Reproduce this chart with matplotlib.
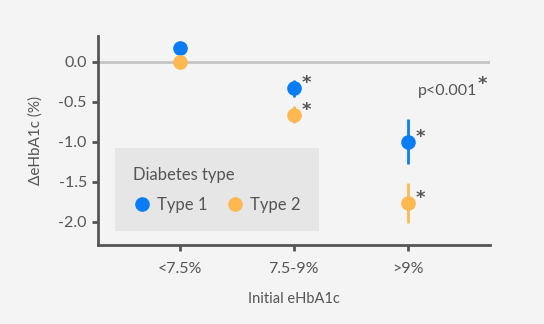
import numpy as np
import matplotlib.pyplot as plt

plt.rcParams['font.family'] = ['Lato', 'DejaVu Sans']

groups = ['<7.5%', '7.5-9%', '>9%']
type1_mean = [0.18, -0.33, -1.00]
type1_err = [0.0, 0.11, 0.28]
type2_mean = [0.0, -0.66, -1.76]
type2_err = [0.0, 0.11, 0.25]
# significance flag per group
type1_sig = [False, True, True]
type2_sig = [False, True, True]

blue = '#0a7cf5'
orange = '#fdb84f'
dark = '#555555'
bg = '#f4f4f4'
star = dict(fontsize=13, fontweight='bold', color=dark, family='DejaVu Sans')

fig = plt.figure(figsize=(5.44, 3.24), dpi=100, facecolor=bg)
ax = fig.add_axes([0.18, 0.244, 0.72, 0.645], facecolor=bg)

x = np.arange(1, len(groups) + 1)
ax.axhline(0, color='#c4c4c4', lw=2, zorder=0)

handles = []
for means, errs, sig, col, lab in [(type1_mean, type1_err, type1_sig, blue, 'Type 1'),
                                   (type2_mean, type2_err, type2_sig, orange, 'Type 2')]:
    eb = ax.errorbar(x, means, yerr=errs, fmt='o', color=col, ms=9.5, elinewidth=2,
                     capsize=0, label=lab, zorder=3)
    handles.append(eb[0])
    for xi, yi, s in zip(x, means, sig):
        if s:
            ax.annotate('*', (xi, yi), xytext=(6, -3), textcoords='offset points',
                        ha='left', va='bottom', **star)

ax.text(3.09, -0.36, 'p<0.001', fontsize=11.5, color=dark, ha='left', va='center')
ax.text(3.615, -0.39, '*', ha='left', va='bottom', **star)

ax.set_xlim(0.28, 3.72)
ax.set_ylim(-2.29, 0.325)
ax.set_xticks(x)
ax.set_xticklabels(groups)
ax.set_yticks([0, -0.5, -1.0, -1.5, -2.0])
ax.set_yticklabels(['0.0', '-0.5', '-1.0', '-1.5', '-2.0'])
ax.set_xlabel('Initial eHbA1c', fontsize=10.5, color=dark, labelpad=12)
ax.set_ylabel('ΔeHbA1c (%)', fontsize=11, color=dark, labelpad=11)

for side in ['top', 'right']:
    ax.spines[side].set_visible(False)
for side in ['left', 'bottom']:
    ax.spines[side].set_color(dark)
    ax.spines[side].set_linewidth(2)
ax.tick_params(colors=dark, labelsize=11.5, width=2, length=4, pad=4)
ax.tick_params(axis='x', pad=8)

leg = ax.legend(handles, ['Type 1', 'Type 2'], title='Diabetes type', ncol=2,
                loc='lower left', bbox_to_anchor=(0.043, 0.067), borderaxespad=0,
                frameon=True, fancybox=False, facecolor='#e6e6e6', edgecolor='none',
                framealpha=1, fontsize=12, title_fontsize=12,
                handletextpad=0.35, columnspacing=1.1, borderpad=1.1,
                handlelength=1.1)
leg._legend_box.align = 'left'
leg._legend_box.sep = 10
leg.get_title().set_color(dark)
for t in leg.get_texts():
    t.set_color(dark)

fig.savefig('out.png', dpi=100, facecolor=bg)
